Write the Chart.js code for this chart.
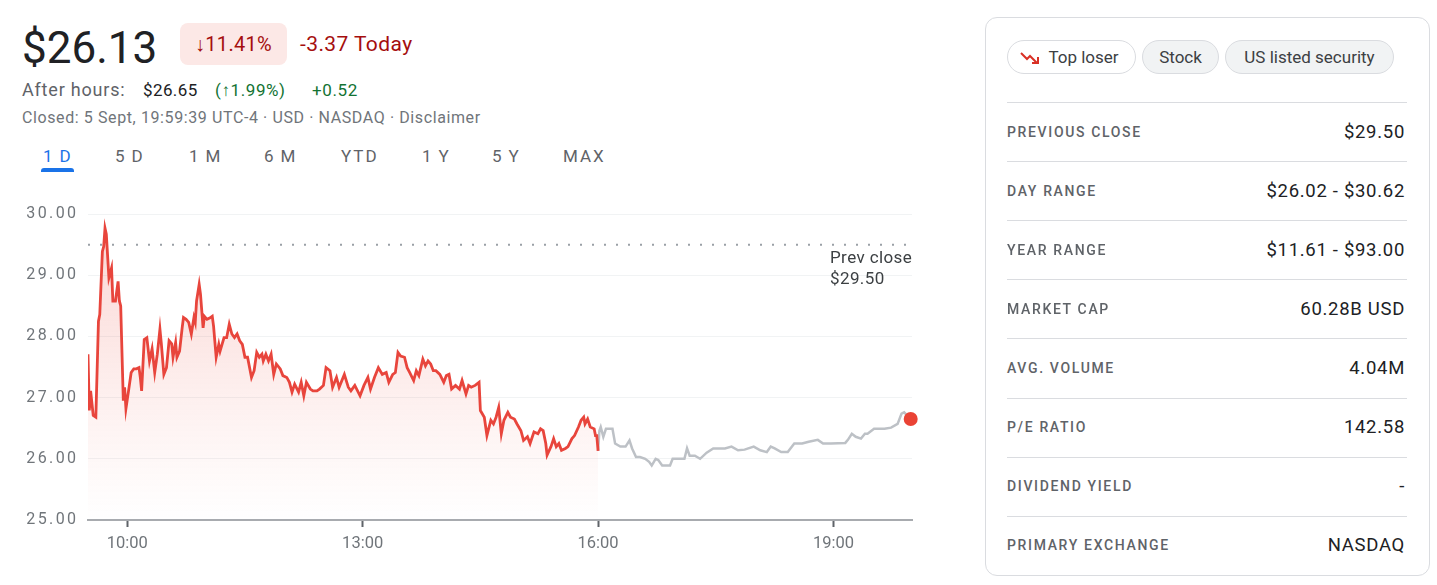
<!DOCTYPE html>
<html><head><meta charset="utf-8">
<script src="https://cdn.jsdelivr.net/npm/chart.js@4"></script>
<style>
html,body{margin:0;padding:0;background:#fff;width:1437px;height:585px;overflow:hidden;font-family:Roboto,Arial,sans-serif;}
.a{position:absolute;white-space:nowrap;}
#price{left:22px;top:22px;font-size:44px;line-height:52px;color:#202124;}
#badge{left:180px;top:23px;width:107px;height:42px;border-radius:8px;background:#fce8e6;color:#a50e0e;font-size:20px;line-height:42px;text-align:center;letter-spacing:0.3px;}
#today{left:300px;top:23px;font-size:21px;line-height:42px;color:#a50e0e;letter-spacing:0.4px;}
.ah{top:79px;font-size:17px;line-height:22px;}
.g{color:#137333;letter-spacing:0.6px;}
#closed{left:22px;top:108px;font-size:16px;line-height:20px;color:#70757a;letter-spacing:0.6px;}
.tab{top:145px;font-size:17px;line-height:22px;letter-spacing:2px;color:#5f6368;}
.tab.on{color:#1a73e8;}
#uline{left:41px;top:168px;width:33px;height:4px;background:#1a73e8;border-radius:3px 3px 0 0;}
#card{left:985px;top:17px;width:443px;height:557px;border:1px solid #dadce0;border-radius:12px;}
.chip{top:40px;height:32px;border:1px solid #dadce0;border-radius:17px;font-size:17px;line-height:32px;color:#3c4043;text-align:center;}
.sep{left:1007px;width:400px;height:1px;background:#dadce0;}
.lab{left:1007px;font-size:14px;line-height:20px;letter-spacing:1.65px;color:#5f6368;font-weight:500;}
.val{right:32px;font-size:18.5px;line-height:22px;color:#202124;text-align:right;letter-spacing:0.7px;}
#pc{left:830px;top:247px;font-size:17px;line-height:21px;color:#3c4043;letter-spacing:0.4px;}
#wrap{position:absolute;left:0;top:195px;width:930px;height:365px;}
</style></head>
<body>
<div class="a" id="price">$26.13</div>
<div class="a" id="badge">↓11.41%</div>
<div class="a" id="today">-3.37 Today</div>
<div class="a ah" style="left:22px;color:#5f6368;font-size:18px;letter-spacing:0.8px;">After hours:</div>
<div class="a ah" style="left:143px;color:#202124;letter-spacing:0.4px;">$26.65</div>
<div class="a ah g" style="left:215px;">(↑1.99%)</div>
<div class="a ah g" style="left:312px;">+0.52</div>
<div class="a" id="closed">Closed: 5 Sept, 19:59:39 UTC-4 · USD · NASDAQ · Disclaimer</div>
<div class="a tab on" style="left:43px"><span style="margin-right:5px">1</span>D</div>
<div class="a tab" style="left:115px"><span style="margin-right:5px">5</span>D</div>
<div class="a tab" style="left:189px"><span style="margin-right:5px">1</span>M</div>
<div class="a tab" style="left:264px"><span style="margin-right:5px">6</span>M</div>
<div class="a tab" style="left:341px">YTD</div>
<div class="a tab" style="left:422px"><span style="margin-right:5px">1</span>Y</div>
<div class="a tab" style="left:492px"><span style="margin-right:5px">5</span>Y</div>
<div class="a tab" style="left:563px">MAX</div>
<div class="a" id="uline"></div>
<div id="wrap"><canvas id="c" width="930" height="365"></canvas></div>
<div class="a" id="pc">Prev close<br>$29.50</div>

<div class="a" id="card"></div>
<div class="a chip" style="left:1007px;width:127px;background:#fff;"><svg width="22" height="14" viewBox="0 0 22 14" style="position:absolute;left:12px;top:10px"><polyline points="1,2 7,8 10,5 17,12" fill="none" stroke="#d93025" stroke-width="2"/><polyline points="12,12 18,12 18,6" fill="none" stroke="#d93025" stroke-width="2"/></svg><span style="margin-left:24px">Top loser</span></div>
<div class="a chip" style="left:1142px;width:75px;background:#f1f3f4;">Stock</div>
<div class="a chip" style="left:1225px;width:167px;background:#f1f3f4;">US listed security</div>
<div id="rows"></div>

<script>
// ---- data ----
const statLabels = ["PREVIOUS CLOSE","DAY RANGE","YEAR RANGE","MARKET CAP","AVG. VOLUME","P/E RATIO","DIVIDEND YIELD","PRIMARY EXCHANGE"];
const statValues = ["$29.50","$26.02 - $30.62","$11.61 - $93.00","60.28B USD","4.04M","142.58","-","NASDAQ"];

const prevClose = 29.50;
const yTicks = [25,26,27,28,29,30];
const xTickValues = ["10:00","13:00","16:00","19:00"];
const xRange = ["9:30","20:00"];

const regTimes = ["9:30","9:31","9:32","9:34","9:36","9:38","9:39","9:41","9:42","9:43","9:44","9:46","9:48","9:49","9:51","9:53","9:54","9:55","9:57","9:58","9:59","10:01","10:03","10:05","10:07","10:09","10:10","10:11","10:13","10:15","10:17","10:19","10:21","10:23","10:25","10:26","10:28","10:30","10:32","10:34","10:35","10:37","10:38","10:40","10:42","10:43","10:45","10:47","10:49","10:51","10:52","10:53","10:55","10:56","10:58","10:59","11:01","11:03","11:05","11:06","11:08","11:10","11:11","11:14","11:16","11:18","11:20","11:22","11:24","11:26","11:28","11:30","11:32","11:33","11:35","11:37","11:39","11:41","11:43","11:44","11:46","11:48","11:50","11:52","11:54","11:57","11:59","12:02","12:04","12:06","12:08","12:11","12:13","12:15","12:17","12:20","12:22","12:25","12:27","12:30","12:32","12:35","12:37","12:40","12:42","12:46","12:49","12:51","12:54","12:58","13:01","13:04","13:06","13:09","13:12","13:15","13:18","13:20","13:23","13:25","13:27","13:29","13:32","13:34","13:36","13:39","13:41","13:43","13:46","13:48","13:50","13:52","13:54","13:56","13:59","14:02","14:04","14:06","14:08","14:11","14:14","14:16","14:19","14:21","14:23","14:26","14:29","14:30","14:33","14:35","14:38","14:40","14:42","14:44","14:46","14:48","14:51","14:53","14:56","14:58","15:01","15:03","15:06","15:08","15:11","15:14","15:16","15:18","15:20","15:21","15:24","15:26","15:28","15:30","15:32","15:35","15:37","15:40","15:42","15:45","15:47","15:49","15:50","15:52","15:54","15:57","15:58","15:59","16:00"];
const regPrices = [27.71,26.79,27.11,26.71,26.68,28.25,28.36,29.39,29.47,29.77,29.67,28.96,29.12,28.58,28.58,28.90,28.58,28.50,26.95,27.17,26.82,27.11,27.41,27.47,27.47,27.49,27.33,27.11,27.95,27.98,27.60,27.80,27.41,27.71,28.12,27.90,27.38,27.49,27.93,27.88,27.66,27.90,27.66,27.76,28.14,28.31,28.28,28.23,28.04,28.31,28.23,28.58,28.85,28.69,28.14,28.33,28.28,28.30,28.33,28.17,27.66,27.87,27.76,27.98,27.98,28.20,28.04,27.98,28.04,27.93,27.87,27.66,27.66,27.55,27.33,27.44,27.74,27.66,27.71,27.60,27.71,27.60,27.71,27.38,27.55,27.47,27.36,27.33,27.25,27.09,27.22,27.09,27.25,27.03,27.25,27.14,27.11,27.11,27.14,27.20,27.49,27.44,27.17,27.33,27.17,27.38,27.17,27.11,27.20,27.03,27.20,27.33,27.14,27.33,27.49,27.38,27.41,27.25,27.38,27.41,27.74,27.68,27.66,27.49,27.41,27.28,27.44,27.36,27.63,27.52,27.60,27.55,27.44,27.44,27.38,27.25,27.36,27.38,27.14,27.20,27.14,27.28,27.06,27.20,27.17,27.20,27.25,26.79,26.68,26.38,26.63,26.57,26.68,26.84,26.41,26.63,26.76,26.68,26.65,26.57,26.46,26.30,26.36,26.25,26.44,26.41,26.49,26.46,26.25,26.06,26.20,26.33,26.20,26.25,26.14,26.17,26.20,26.33,26.38,26.52,26.63,26.68,26.57,26.65,26.52,26.49,26.38,26.38,26.13];

const ahTimes = ["16:00","16:01","16:02","16:04","16:06","16:11","16:13","16:17","16:21","16:24","16:26","16:29","16:32","16:36","16:39","16:41","16:44","16:46","16:49","16:55","16:57","17:02","17:06","17:08","17:10","17:14","17:18","17:23","17:28","17:37","17:42","17:47","17:52","17:59","18:04","18:09","18:12","18:15","18:20","18:25","18:30","18:36","18:41","18:48","18:52","18:58","19:09","19:11","19:14","19:17","19:21","19:24","19:26","19:31","19:39","19:44","19:49","19:52","19:54","19:59"];
const ahPrices = [26.13,26.46,26.52,26.36,26.49,26.49,26.25,26.20,26.20,26.30,26.17,26.03,26.03,26.00,25.95,25.89,26.00,25.98,25.89,25.89,26.00,26.00,26.00,26.17,26.05,26.05,26.00,26.10,26.17,26.17,26.20,26.14,26.15,26.20,26.14,26.11,26.20,26.17,26.11,26.11,26.25,26.25,26.28,26.31,26.25,26.25,26.26,26.31,26.41,26.36,26.33,26.41,26.41,26.49,26.49,26.51,26.57,26.74,26.76,26.65];

// ---- stats panel ----
const rows = document.getElementById('rows');
statLabels.forEach((l,i)=>{
  const top = 102 + i*59.1;
  rows.insertAdjacentHTML('beforeend',
    `<div class="a sep" style="top:${top}px"></div>`+
    `<div class="a lab" style="top:${top+19.5}px">${l}</div>`+
    `<div class="a val" style="top:${top+18.5}px">${statValues[i]}</div>`);
});

// ---- chart ----
const toH = t => { const [h,m] = t.split(':').map(Number); return h + m/60; };
const reg = regTimes.map((t,i)=>({x:toH(t), y:regPrices[i]}));
const ah = ahTimes.map((t,i)=>({x:toH(t), y:ahPrices[i]}));
const last = ah[ah.length-1];
const xMin = toH(xRange[0]), xMax = toH(xRange[1]);

const ctx = document.getElementById('c').getContext('2d');
new Chart(ctx, {
  type:'line',
  data:{datasets:[
    {data:[{x:xMin,y:prevClose},{x:xMax,y:prevClose}], borderColor:'#9aa0a6', borderWidth:2, borderDash:[2,10], pointRadius:0, fill:false, order:3},
    {data:ah, borderColor:'#bdc1c6', borderWidth:2.5, pointRadius:0, tension:0, fill:false, order:2},
    {data:reg, borderColor:'#e8453c', borderWidth:2.8, pointRadius:0, tension:0, order:1,
     fill:'start',
     backgroundColor:(c)=>{const a=c.chart.chartArea; if(!a) return 'rgba(234,67,53,0.1)';
       const g=c.chart.ctx.createLinearGradient(0,a.top,0,a.bottom);
       g.addColorStop(0,'rgba(234,67,53,0.22)'); g.addColorStop(0.7,'rgba(234,67,53,0.06)'); g.addColorStop(1,'rgba(234,67,53,0)'); return g;}},
    {data:[last], pointRadius:7, pointBackgroundColor:'#ea4335', pointBorderWidth:0, showLine:false, clip:false, order:0}
  ]},
  options:{
    responsive:false, animation:false, events:[],
    layout:{padding:{top:15,right:18,left:0,bottom:0}},
    plugins:{legend:{display:false}, tooltip:{enabled:false}},
    scales:{
      x:{type:'linear', min:xMin, max:xMax,
         afterBuildTicks:(s)=>{s.ticks = xTickValues.map(t=>({value:toH(t)}));},
         afterFit:(s)=>{s.height=40;},
         ticks:{callback:(v)=>{const i=xTickValues.findIndex(t=>Math.abs(toH(t)-v)<1e-6); return i>=0?xTickValues[i]:'';}, color:'#70757a', font:{family:'Roboto',size:16.5}, padding:7, maxRotation:0, autoSkip:false},
         grid:{drawOnChartArea:false, drawTicks:true, tickLength:7, color:'#5f6368', tickWidth:2},
         border:{display:true, color:'#a8abaf', width:2}},
      y:{min:25, max:30,
         afterBuildTicks:(s)=>{s.ticks = yTicks.map(v=>({value:v}));},
         afterFit:(s)=>{
           s.width=88;
           if(!s._lsPatched){ const orig=s.drawLabels; s.drawLabels=function(a){ this.ctx.save(); this.ctx.letterSpacing='2.4px'; orig.call(this,a); this.ctx.restore(); }; s._lsPatched=true; }
         },
         ticks:{callback:(v)=>v.toFixed(2), color:'#70757a', font:{family:'Roboto',size:16}, padding:9.5},
         grid:{color:'#f1f3f4', drawTicks:false, lineWidth:1},
         border:{display:false}}
    }
  }
});
</script>
</body></html>
